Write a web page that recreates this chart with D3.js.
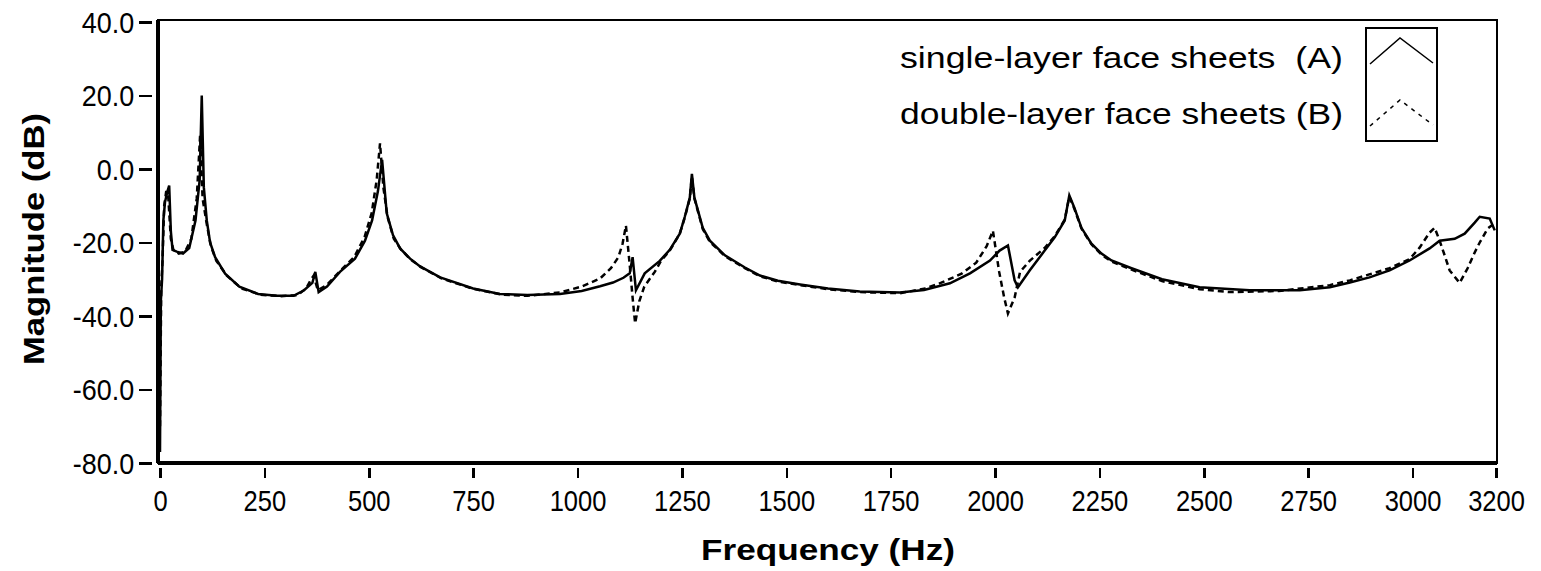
<!DOCTYPE html>
<html>
<head>
<meta charset="utf-8">
<script src="https://cdn.jsdelivr.net/npm/d3@7"></script>
<style>
    body { margin: 0; background: #fff; }
    svg { display: block; }
    text { font-family: "Liberation Sans", Arial, sans-serif; fill: #000; }
    .legend-label { white-space: pre; }
</style>
</head>
<body>
<script>
    // [frequency Hz, magnitude dB]
    let singleLayer = [
        [0, -77], [2, -36], [5, -30], [8, -14], [12, -9], [18, -6], [22, -4.5], [26, -17], [30, -22],
        [40, -22.5], [55, -23], [70, -21.5], [85, -14], [95, -3], [100, 20], [105, -5], [112, -14],
        [120, -20], [132, -24], [156, -28.5], [190, -32], [235, -34], [280, -34.5], [320, -34.5],
        [345, -33], [365, -31], [372, -28], [380, -33.5], [400, -32], [431, -28], [467, -24.4],
        [491, -19.5], [508, -14], [522, -6], [532, 2.5], [543, -12], [558, -18], [575, -21.6],
        [599, -24.4], [623, -26.5], [671, -29.5], [750, -32.5], [814, -34], [880, -34.3], [958, -34],
        [1010, -33.2], [1054, -31.9], [1085, -30.9], [1110, -29.6], [1125, -28.4], [1132, -24], [1140, -33], [1161, -28.4],
        [1197, -25], [1221, -22], [1245, -17.6], [1257, -13], [1269, -7.8], [1274, -1.3], [1280, -7.8],
        [1300, -16], [1317, -19.5], [1353, -23.5], [1401, -26.8], [1437, -29], [1480, -30.4], [1533, -31.4],
        [1600, -32.5], [1676, -33.3], [1772, -33.6], [1830, -32.9], [1892, -31.1], [1940, -28.4], [1988, -24.9], [2011, -22.2],
        [2031, -20.8], [2047, -30.3], [2055, -32.2], [2083, -27.6], [2119, -22.2], [2143, -18.6],
        [2167, -14], [2178, -7.2], [2190, -10.5], [2207, -16], [2231, -20.3], [2255, -23], [2279, -24.9],
        [2327, -27], [2400, -30], [2490, -32.2], [2610, -33], [2730, -33], [2802, -32.2], [2850, -30.9],
        [2897, -29.5], [2945, -27.6], [2993, -24.9], [3041, -21.6], [3065, -19.5], [3101, -19],
        [3125, -17.6], [3149, -14.6], [3161, -13], [3185, -13.5], [3197, -16.7]
    ];
    let doubleLayer = [
        [0, -70], [3, -32], [6, -25], [10, -10], [15, -6], [20, -8], [26, -19], [32, -22], [45, -23],
        [60, -22.5], [75, -19], [88, -8], [96, 9], [102, -8], [112, -15], [122, -21], [135, -25],
        [160, -29], [195, -32.5], [240, -34.2], [290, -34.6], [330, -34.3], [350, -32.5], [362, -30],
        [368, -29], [378, -33], [400, -31.5], [431, -27.8], [465, -24], [490, -18.5], [507, -12],
        [519, -3], [527, 7], [535, -5], [545, -13], [560, -19], [578, -22], [600, -24.6], [625, -26.7],
        [675, -29.8], [750, -32.6], [820, -34.2], [880, -34.5], [958, -33.6], [1010, -32], [1054, -29.8],
        [1080, -27], [1098, -24], [1108, -20.3], [1116, -15.4], [1125, -26], [1132, -35], [1138, -42],
        [1148, -36], [1160, -32], [1185, -28], [1200, -25], [1221, -22.2], [1245, -17.6], [1257, -13.2],
        [1269, -8], [1274, -2], [1280, -8], [1300, -16.3], [1317, -19.8], [1353, -23.7], [1401, -27],
        [1437, -29.2], [1480, -30.6], [1533, -31.6], [1600, -32.7], [1676, -33.5], [1772, -33.8],
        [1830, -32.6], [1870, -31], [1920, -28.5],
        [1955, -25.5], [1980, -21], [1995, -16.8], [2010, -28], [2022, -35], [2031, -39.3], [2047, -35],
        [2060, -28], [2083, -25], [2119, -21.5], [2143, -18.3], [2167, -13.8], [2178, -7.5], [2190, -10.8],
        [2207, -16.2], [2231, -20.5], [2255, -23.3], [2279, -25.2], [2327, -27.4], [2400, -30.5],
        [2490, -32.7], [2560, -33.5], [2680, -33.2], [2802, -31.6], [2850, -30.3], [2945, -27],
        [2993, -24.5], [3017, -21.4], [3041, -17.3], [3053, -16], [3065, -19.5], [3077, -23.5],
        [3089, -27.6], [3113, -31], [3132, -27], [3149, -22.7], [3161, -20], [3180, -16.2], [3200, -14.5]
    ];
    let xTicks = [0, 250, 500, 750, 1000, 1250, 1500, 1750, 2000, 2250, 2500, 2750, 3000, 3200];
    let yTicks = [40, 20, 0, -20, -40, -60, -80];
    let seriesNames = ["single-layer face sheets  (A)", "double-layer face sheets (B)"];

    (function() {
        'use strict';

        let width = 1541;
        let height = 571;
        let left = 158, right = 1497, top = 20, bottom = 463;

        let x = d3.scaleLinear().domain([0, 3200]).range([160, 1496]);
        let y = d3.scaleLinear().domain([-80, 40]).range([bottom, 22]);

        let svg = d3.select("body").append("svg")
            .attr("width", width)
            .attr("height", height);

        // plain hyphen for negatives, like the original
        let fmt = function(d) { return d3.format(".1f")(d).replace("\u2212", "-"); };

        // y axis ticks sit a little off the frame
        let yAxis = d3.axisLeft(y).tickValues(yTicks).tickSize(13).tickPadding(6)
            .tickFormat(fmt);
        let gy = svg.append("g").attr("transform", "translate(152,0)").call(yAxis);
        gy.select(".domain").remove();
        gy.selectAll("line").attr("stroke", "#000").attr("stroke-width", 2.5)
            .attr("shape-rendering", "crispEdges");
        gy.selectAll("text")
            .attr("font-size", 29)
            .attr("dy", "0.36em")
            .attr("transform", "scale(0.93,1)");

        let xAxis = d3.axisBottom(x).tickValues(xTicks).tickSize(10).tickPadding(12)
            .tickFormat(d3.format("d"));
        let gx = svg.append("g").attr("transform", "translate(0," + (bottom + 5) + ")").call(xAxis);
        gx.select(".domain").remove();
        gx.selectAll("line").attr("stroke", "#000").attr("stroke-width", 2.5)
            .attr("shape-rendering", "crispEdges");
        gx.selectAll("text")
            .attr("font-size", 29)
            .attr("dy", "0.72em")
            .attr("transform", "scale(0.88,1)");

        // plot frame
        svg.append("rect")
            .attr("x", left).attr("y", top)
            .attr("width", right - left).attr("height", bottom - top)
            .attr("fill", "none").attr("stroke", "#000").attr("stroke-width", 2.5)
            .attr("shape-rendering", "crispEdges");
        svg.append("line")
            .attr("x1", left).attr("x2", left).attr("y1", top).attr("y2", bottom)
            .attr("stroke", "#000").attr("stroke-width", 4)
            .attr("shape-rendering", "crispEdges");
        svg.append("line")
            .attr("x1", left).attr("x2", right).attr("y1", bottom).attr("y2", bottom)
            .attr("stroke", "#000").attr("stroke-width", 4)
            .attr("shape-rendering", "crispEdges");

        let line = d3.line()
            .x(function(d) { return x(d[0]); })
            .y(function(d) { return y(d[1]); });

        svg.append("path")
            .datum(doubleLayer)
            .attr("d", line)
            .attr("fill", "none").attr("stroke", "#000").attr("stroke-width", 2.5)
            .attr("stroke-dasharray", "6,4");
        svg.append("path")
            .datum(singleLayer)
            .attr("d", line)
            .attr("fill", "none").attr("stroke", "#000").attr("stroke-width", 2.5)
            .attr("stroke-linejoin", "miter");

        // axis titles
        svg.append("text")
            .attr("x", 828).attr("y", 560)
            .attr("text-anchor", "middle")
            .attr("font-size", 30).attr("font-weight", "bold")
            .attr("textLength", 254).attr("lengthAdjust", "spacingAndGlyphs")
            .text("Frequency (Hz)");
        svg.append("text")
            .attr("transform", "translate(44,239) rotate(-90)")
            .attr("text-anchor", "middle")
            .attr("font-size", 30).attr("font-weight", "bold")
            .attr("textLength", 252).attr("lengthAdjust", "spacingAndGlyphs")
            .text("Magnitude (dB)");

        // legend
        let legendY = [68, 124];
        seriesNames.forEach(function(name, i) {
            svg.append("text")
                .attr("class", "legend-label")
                .attr("x", 1343).attr("y", legendY[i])
                .attr("text-anchor", "end")
                .attr("font-size", 29)
                .attr("textLength", 443).attr("lengthAdjust", "spacingAndGlyphs")
                .text(name);
        });
        svg.append("rect")
            .attr("x", 1366).attr("y", 28).attr("width", 71).attr("height", 113)
            .attr("fill", "none").attr("stroke", "#000").attr("stroke-width", 2.5)
            .attr("shape-rendering", "crispEdges");
        let icon = [[1370, 26], [1400, 0], [1433, 25]];
        [38, 100].forEach(function(oy, i) {
            svg.append("path")
                .attr("d", d3.line()(icon.map(function(p) { return [p[0], p[1] + oy]; })))
                .attr("fill", "none").attr("stroke", "#000").attr("stroke-width", 1.5)
                .attr("stroke-dasharray", i === 0 ? null : "4,5");
        });
    })();
</script>
</body>
</html>
